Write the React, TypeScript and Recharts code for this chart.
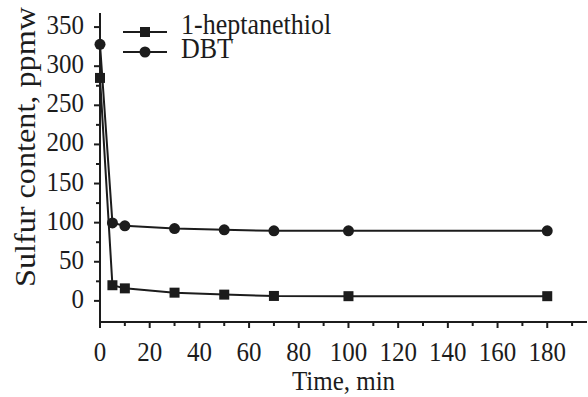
import React from 'react';
import { LineChart, Line, XAxis, YAxis } from 'recharts';

// sampling times, min
const times = [0, 5, 10, 30, 50, 70, 100, 180];
// sulfur content, ppmw
const heptanethiol = [285, 20, 16, 10.5, 8, 6.3, 6, 6];
const dbt = [328, 99.7, 96, 92.5, 90.8, 89.5, 89.5, 89.5];

const xTicks = [0, 10, 20, 30, 40, 50, 60, 70, 80, 90, 100, 110, 120, 130, 140, 150, 160, 170, 180, 190];
const yTicks = [0, 25, 50, 75, 100, 125, 150, 175, 200, 225, 250, 275, 300, 325, 350];

const data = times.map((t, i) => ({ t, heptanethiol: heptanethiol[i], dbt: dbt[i] }));

const INK = '#1c1c1c';
const SERIF = "'Times New Roman', 'Liberation Serif', serif";

// glyphs in this figure are a little taller than they are wide
const Txt = ({ x, y, anchor = 'start', size = 25, children }: any) => (
  <text
    transform={`translate(${x},${y}) scale(1,1.12)`}
    textAnchor={anchor}
    fill={INK}
    style={{ fontFamily: SERIF, fontSize: size }}
  >
    {children}
  </text>
);

const XTick = (props: any) => {
  const { x, y, payload } = props;
  const major = payload.value % 20 === 0;
  return (
    <g>
      <line x1={x} x2={x} y1={y} y2={y + (major ? 6 : 4)} stroke={INK} strokeWidth={2} />
      {major && <Txt x={x} y={y + 39} anchor="middle">{payload.value}</Txt>}
    </g>
  );
};

const YTick = (props: any) => {
  const { x, y, payload } = props;
  const major = payload.value % 50 === 0;
  return (
    <g>
      <line x1={x} x2={x - (major ? 6 : 4)} y1={y} y2={y} stroke={INK} strokeWidth={2} />
      {major && <Txt x={x - 16} y={y + 7} anchor="end">{payload.value}</Txt>}
    </g>
  );
};

const XLabel = (props: any) => {
  const { viewBox } = props;
  return <Txt x={viewBox.x + viewBox.width / 2} y={390} anchor="middle">Time, min</Txt>;
};

const YLabel = () => (
  <text
    transform="translate(35,147) rotate(-90)"
    textAnchor="middle"
    fill={INK}
    textLength={280}
    lengthAdjust="spacingAndGlyphs"
    style={{ fontFamily: SERIF, fontSize: 29 }}
  >
    Sulfur content, ppmw
  </text>
);

const SquareDot = (props: any) => {
  const { cx, cy, index } = props;
  if (cx == null || cy == null) return <g key={index} />;
  return <rect key={index} x={cx - 5} y={cy - 5} width={10} height={10} fill={INK} />;
};

const CircleDot = (props: any) => {
  const { cx, cy, index } = props;
  if (cx == null || cy == null) return <g key={index} />;
  return <circle key={index} cx={cx} cy={cy} r={5.5} fill={INK} />;
};

// legend drawn as an overlay so it does not shrink the plot area
const LegendBox = () => (
  <svg width={588} height={70} style={{ position: 'absolute', left: 0, top: 0 }}>
    <line x1={123} x2={167} y1={32} y2={32} stroke={INK} strokeWidth={2} />
    <rect x={140} y={27} width={10} height={10} fill={INK} />
    <Txt x={181} y={34} size={26}>1-heptanethiol</Txt>
    <line x1={123} x2={167} y1={52} y2={52} stroke={INK} strokeWidth={2} />
    <circle cx={145} cy={52} r={5.5} fill={INK} />
    <Txt x={181} y={58} size={26}>DBT</Txt>
  </svg>
);

export default function App() {
  return (
    <div style={{ position: 'absolute', left: 0, top: 0, width: 588, height: 397, background: '#fff', fontFamily: SERIF }}>
      <LineChart width={588} height={397} data={data} margin={{ top: 13, right: 1, left: 0, bottom: 0 }}>
        <XAxis
          dataKey="t"
          type="number"
          domain={[0, 196]}
          ticks={xTicks}
          interval={0}
          tick={<XTick />}
          tickLine={false}
          tickSize={0}
          tickMargin={0}
          height={75}
          axisLine={{ stroke: INK, strokeWidth: 2 }}
          label={<XLabel />}
        />
        <YAxis
          type="number"
          domain={[-27, 368]}
          ticks={yTicks}
          interval={0}
          tick={<YTick />}
          tickLine={false}
          tickSize={0}
          tickMargin={0}
          width={100}
          axisLine={{ stroke: INK, strokeWidth: 2 }}
          label={<YLabel />}
        />
        <Line type="linear" dataKey="heptanethiol" stroke={INK} strokeWidth={2} dot={<SquareDot />} isAnimationActive={false} />
        <Line type="linear" dataKey="dbt" stroke={INK} strokeWidth={2} dot={<CircleDot />} isAnimationActive={false} />
      </LineChart>
      <LegendBox />
    </div>
  );
}
